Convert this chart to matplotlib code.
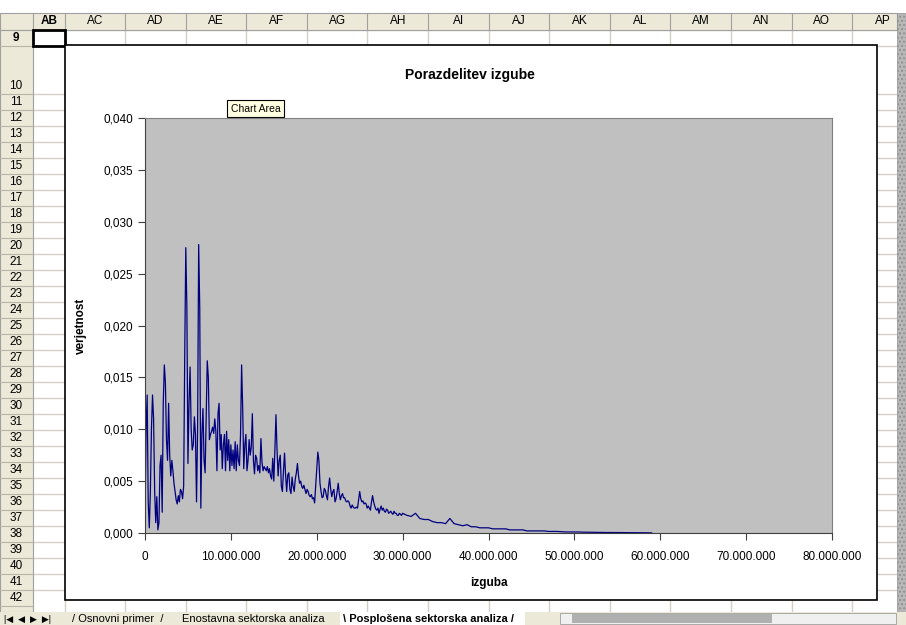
import matplotlib
matplotlib.use("Agg")
import matplotlib.pyplot as plt
import matplotlib.ticker as mticker
from matplotlib.patches import Rectangle
import numpy as np

plt.rcParams['font.family'] = ['Liberation Sans', 'DejaVu Sans']

# loss in millions: 0.125M step up to 30M, then 0.5M step to 59M
loss_head = np.arange(0, 30.001, 0.125)
loss_tail = np.arange(30.5, 59.01, 0.5)

# one row per million
prob_head = [
    0.0010, 0.0100, 0.0133, 0.0030, 0.0005, 0.0040, 0.0100, 0.0133,
    0.0110, 0.0040, 0.0010, 0.0035, 0.0003, 0.0010, 0.0065, 0.0075,
    0.0020, 0.0125, 0.0162, 0.0145, 0.0090, 0.0070, 0.0125, 0.0075,
    0.0055, 0.0070, 0.0060, 0.0048, 0.0040, 0.0032, 0.0028, 0.0036,
    0.0030, 0.0042, 0.0040, 0.0033, 0.0045, 0.0170, 0.0275, 0.0218,
    0.0067, 0.0125, 0.0160, 0.0100, 0.0080, 0.0085, 0.0112, 0.0095,
    0.0030, 0.0100, 0.0278, 0.0217, 0.0024, 0.0095, 0.0120, 0.0070,
    0.0058, 0.0110, 0.0166, 0.0150, 0.0090, 0.0095, 0.0098, 0.0102,
    0.0096, 0.0110, 0.0098, 0.0060, 0.0115, 0.0125, 0.0080, 0.0095,
    0.0062, 0.0085, 0.0095, 0.0060, 0.0098, 0.0070, 0.0090, 0.0060,
    0.0085, 0.0065, 0.0080, 0.0062, 0.0088, 0.0060, 0.0085, 0.0070,
    0.0065, 0.0095, 0.0162, 0.0120, 0.0062, 0.0085, 0.0095, 0.0060,
    0.0070, 0.0090, 0.0075, 0.0083, 0.0115, 0.0070, 0.0057, 0.0075,
    0.0072, 0.0060, 0.0065, 0.0058, 0.0091, 0.0068, 0.0060, 0.0064,
    0.0062, 0.0060, 0.0064, 0.0058, 0.0062, 0.0055, 0.0052, 0.0072,
    0.0050, 0.0080, 0.0114, 0.0080, 0.0055, 0.0070, 0.0075, 0.0045,
    0.0040, 0.0060, 0.0077, 0.0055, 0.0040, 0.0056, 0.0058, 0.0042,
    0.0038, 0.0054, 0.0045, 0.0040, 0.0052, 0.0058, 0.0067, 0.0055,
    0.0048, 0.0050, 0.0045, 0.0043, 0.0046, 0.0042, 0.0038, 0.0042,
    0.0040, 0.0036, 0.0035, 0.0037, 0.0033, 0.0034, 0.0029, 0.0045,
    0.0060, 0.0078, 0.0070, 0.0048, 0.0040, 0.0034, 0.0035, 0.0043,
    0.0041, 0.0036, 0.0032, 0.0045, 0.0053, 0.0042, 0.0035, 0.0040,
    0.0042, 0.0030, 0.0033, 0.0040, 0.0048, 0.0038, 0.0032, 0.0036,
    0.0038, 0.0034, 0.0034, 0.0031, 0.0030, 0.0031, 0.0030, 0.0026,
    0.0024, 0.0027, 0.0025, 0.0024, 0.0024, 0.0025, 0.0024, 0.0032,
    0.0040, 0.0033, 0.0030, 0.0031, 0.0028, 0.0029, 0.0028, 0.0024,
    0.0026, 0.0024, 0.0022, 0.0030, 0.0036, 0.0030, 0.0026, 0.0023,
    0.0022, 0.0024, 0.0019, 0.0023, 0.0026, 0.0022, 0.0024, 0.0021,
    0.0020, 0.0023, 0.0022, 0.0019, 0.0020, 0.0021, 0.0019, 0.0018,
    0.0021, 0.0019, 0.0019, 0.0017, 0.0017, 0.0019, 0.0018, 0.0017,
    0.0019,
]
prob_tail = [
    0.0017, 0.0016, 0.0019, 0.0014, 0.0013, 0.0013, 0.0011, 0.0010,
    0.0010, 0.0009, 0.0014, 0.0009, 0.0008, 0.0007, 0.0008, 0.0006,
    0.0006, 0.0005, 0.0005, 0.0005, 0.0004, 0.0004, 0.0004, 0.0004,
    0.0003, 0.0003, 0.0003, 0.0003, 0.0002, 0.0002, 0.0002, 0.0002,
    0.0002, 0.00015, 0.00015, 0.00015, 0.00012, 0.0001, 0.0001, 0.0001,
    0.0001, 0.00008, 0.00008, 0.00007, 0.00006, 0.00006, 0.00005, 0.00005,
    0.00004, 0.00004, 0.00004, 0.00003, 0.00003, 0.00003, 0.00002, 0.00002,
    0.00002, 0.00001,
]

loss = np.concatenate([loss_head, loss_tail]) * 1e6
prob = np.array(prob_head + prob_tail)

col_names = ['AB', 'AC', 'AD', 'AE', 'AF', 'AG', 'AH', 'AI', 'AJ', 'AK',
             'AL', 'AM', 'AN', 'AO', 'AP']
sheet_tabs = ['Osnovni primer', 'Enostavna sektorska analiza',
              'Posplošena sektorska analiza']

W, H = 906, 625
fig = plt.figure(figsize=(W / 100, H / 100), dpi=100)
fig.patch.set_facecolor('white')

# spreadsheet background in pixel coordinates
bg = fig.add_axes([0, 0, 1, 1])
bg.set_xlim(0, W)
bg.set_ylim(H, 0)
bg.axis('off')

head_col = '#ECE9D8'
grid_col = '#D4D0C8'
col_edges = [33, 65] + [125 + 60.6 * i for i in range(14)]
row_tops = [30, 46, 94] + [110 + 16 * i for i in range(31)]

# cell gridlines
for x in col_edges[1:]:
    bg.plot([x, x], [30, 612], color=grid_col, lw=1, zorder=1)
for y in row_tops:
    bg.plot([33, 897], [y, y], color=grid_col, lw=1, zorder=1)

# column header
bg.add_patch(Rectangle((0, 13), 897, 17, facecolor=head_col, edgecolor='#A0A0A0',
                       lw=0.8, zorder=2))
for i, name in enumerate(col_names):
    x0 = col_edges[i]
    x1 = col_edges[i + 1] if i + 1 < len(col_edges) else 897
    bg.plot([x0, x0], [13, 30], color='#A0A0A0', lw=0.8, zorder=2)
    bg.text((x0 + x1) / 2, 21.5, name, ha='center', va='center', fontsize=8.5,
            fontweight='bold' if name == 'AB' else 'normal', zorder=3)
# row header
bg.add_patch(Rectangle((0, 30), 33, 582, facecolor=head_col, edgecolor='#A0A0A0',
                       lw=0.8, zorder=2))
for k, top in enumerate(row_tops):
    n = 9 + k
    bot = row_tops[k + 1] if k + 1 < len(row_tops) else 606
    bg.plot([0, 33], [bot, bot], color='#B8B4A8', lw=0.8, zorder=2)
    ty = bot - 8 if n != 9 else (top + bot) / 2
    bg.text(16, ty, str(n), ha='center', va='center', fontsize=8.5,
            fontweight='bold' if n == 9 else 'normal', zorder=3)
# active cell AB9
bg.add_patch(Rectangle((33, 30), 32, 16, facecolor='none', edgecolor='black', lw=2,
                       zorder=3))

# vertical scrollbar
bg.add_patch(Rectangle((897, 13), 9, 599, facecolor='#B8B8B8', edgecolor='#909090',
                       lw=0.5, hatch='....', zorder=2))
# sheet tabs bar
bg.add_patch(Rectangle((0, 612), W, 13, facecolor=head_col, edgecolor='none', zorder=2))
bg.text(4, 619, '|◀  ◀  ▶  ▶|', fontsize=6.5, va='center', ha='left', zorder=3)
bg.text(72, 619, '/ ' + sheet_tabs[0] + '  /', fontsize=8, va='center', zorder=3)
bg.text(182, 619, sheet_tabs[1], fontsize=8, va='center', zorder=3)
bg.add_patch(Rectangle((340, 612), 185, 13, facecolor='white', edgecolor='none', zorder=2))
bg.text(343, 619, '\\ ' + sheet_tabs[2] + ' /', fontsize=8, va='center',
        fontweight='bold', zorder=3)
bg.add_patch(Rectangle((560, 613), 336, 11, facecolor='#F0F0F0', edgecolor='#909090',
                       lw=0.5, zorder=2))
bg.add_patch(Rectangle((572, 614), 200, 9, facecolor='#B0B0B0', edgecolor='none',
                       hatch='....', zorder=3))

# chart area
bg.add_patch(Rectangle((65, 45), 812, 555, facecolor='white', edgecolor='black', lw=1.2,
                       zorder=4))
bg.text(470, 75, 'Porazdelitev izgube', ha='center', va='center', fontsize=10,
        fontweight='bold', zorder=5)
bg.add_patch(Rectangle((227, 100), 57, 17, facecolor='#FFFFE1', edgecolor='black', lw=0.8,
                       zorder=6))
bg.text(255.5, 108.5, 'Chart Area', ha='center', va='center', fontsize=7.5, zorder=7)

# plot area
ax = fig.add_axes([145 / W, 1 - 533 / H, 687 / W, 415 / H])
ax.set_facecolor('#C0C0C0')
ax.plot(loss, prob, color='#000080', lw=0.9)
ax.set_xlim(0, 80e6)
ax.set_ylim(0, 0.04)
ax.xaxis.set_major_locator(mticker.MultipleLocator(10e6))
ax.yaxis.set_major_locator(mticker.MultipleLocator(0.005))
ax.xaxis.set_major_formatter(mticker.FuncFormatter(
    lambda v, p: '{:,.0f}'.format(v).replace(',', '.')))
ax.yaxis.set_major_formatter(mticker.FuncFormatter(
    lambda v, p: '{:.3f}'.format(v).replace('.', ',')))
ax.tick_params(direction='out', length=5, width=0.8, labelsize=8.5, color='#404040')
ax.tick_params(axis='x', pad=8)
for side in ['top', 'right']:
    ax.spines[side].set_color('#808080')
for side in ['left', 'bottom']:
    ax.spines[side].set_color('#404040')
ax.set_xlabel('izguba', fontsize=8.5, fontweight='bold', labelpad=10)
ax.set_ylabel('verjetnost', fontsize=8.5, fontweight='bold', labelpad=12)

fig.savefig('out.png', dpi=100)
